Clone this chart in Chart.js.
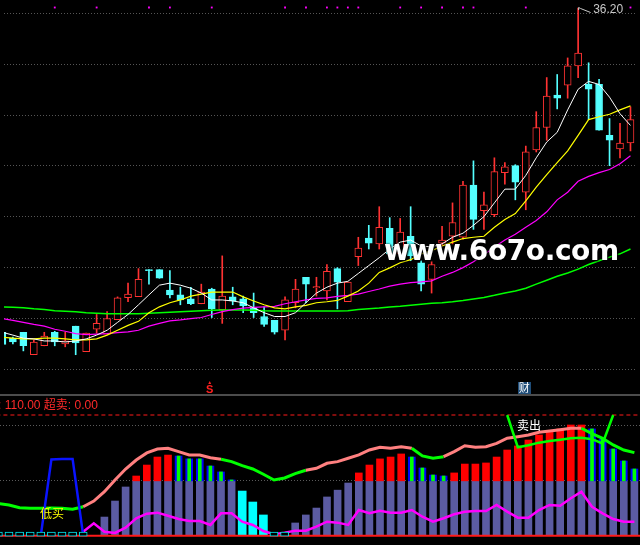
<!DOCTYPE html>
<html>
<head>
<meta charset="utf-8">
<script src="https://cdn.jsdelivr.net/npm/chart.js@4.4.1/dist/chart.umd.min.js"></script>
<style>
html,body{margin:0;padding:0;background:#000;width:640px;height:545px;overflow:hidden;}
#wrap{position:relative;width:640px;height:545px;background:#000;overflow:hidden;}
#top{position:absolute;left:0;top:0;}
#bot{position:absolute;left:0;top:395px;}
#divider{position:absolute;left:0;top:394px;width:640px;height:2px;background:#4c4c4c;}
.lbl{position:absolute;white-space:nowrap;font-family:"Liberation Sans","Noto Sans CJK SC",sans-serif;}
</style>
</head>
<body>
<div id="wrap">
  <canvas id="top" width="640" height="395"></canvas>
  <div id="divider"></div>
  <canvas id="bot" width="640" height="150"></canvas>
  <div class="lbl" id="wm" style="left:384px;top:237px;font-family:'DejaVu Sans',sans-serif;font-weight:bold;font-size:28px;line-height:28px;color:#fff;letter-spacing:-0.4px;text-shadow:0 0 2px #000,1px 1px 2px #000;">www.6o7o.com</div>
  <div class="lbl" id="hiLbl" style="top:3px;font-size:12px;line-height:12px;color:#c8c8c8;"></div>
  <div class="lbl" id="hdr" style="left:-26px;top:398px;font-size:12px;line-height:14px;color:#ff2a2a;">超买: 110.00 超卖: 0.00</div>
  <div class="lbl" id="buyLbl" style="left:40px;top:507px;font-size:12px;line-height:14px;color:#ffff00;">低买</div>
  <div class="lbl" id="sellLbl" style="left:517px;top:419px;font-size:12px;line-height:14px;color:#ffffff;">卖出</div>
  <div class="lbl" id="sMark" style="top:380px;font-size:11px;line-height:10px;color:#ff2020;font-weight:bold;text-align:center;width:12px;"><div style="font-size:5px;line-height:4px;">▲</div>S</div>
  <div class="lbl" id="caiMark" style="top:382px;width:13px;height:12px;font-size:11px;line-height:12px;color:#ffffff;background:#1f4d78;text-align:center;">财</div>
</div>
<script>
// ---------------- DATA ----------------
const days = [0,1,2,3,4,5,6,7,8,9,10,11,12,13,14,15,16,17,18,19,20,21,22,23,24,25,26,27,28,29,30,31,32,33,34,35,36,37,38,39,40,41,42,43,44,45,46,47,48,49,50,51,52,53,54,55,56,57,58,59,60];

const openP = [23.47,23.24,23.47,22.59,22.94,23.47,23.01,23.71,22.71,23.59,
  23.40,23.97,24.83,24.87,25.91,25.93,25.13,24.94,24.78,24.59,
  25.17,24.36,24.86,24.78,24.43,24.09,23.94,23.55,24.63,25.63,
  25.22,25.09,25.97,24.67,26.44,27.17,26.94,27.55,26.55,27.24,
  26.20,25.55,26.97,27.24,27.20,29.25,28.24,28.09,29.74,30.01,
  28.97,30.63,31.51,32.78,33.17,33.93,33.20,33.20,31.20,30.67,
  30.90];
const highP = [23.51,23.28,23.47,23.17,23.47,23.51,23.47,23.71,23.44,24.17,
  24.28,24.86,25.40,25.97,25.93,25.93,25.89,25.24,25.24,25.36,
  25.20,26.47,25.24,24.89,25.01,24.47,23.94,24.86,25.55,25.63,
  25.63,26.13,26.01,25.44,27.20,27.67,28.40,27.97,27.94,28.40,
  26.28,26.24,27.63,28.55,29.40,30.20,28.97,30.32,30.13,30.05,
  30.78,32.13,33.47,33.59,34.24,36.20,34.05,33.40,31.86,31.67,
  32.32];
const lowP = [22.94,23.01,22.74,22.59,22.94,22.94,22.90,22.59,22.71,23.44,
  23.40,23.97,24.67,24.87,25.36,25.59,24.82,24.55,24.55,24.59,
  24.05,23.82,24.55,24.24,24.05,23.70,23.40,23.17,24.43,24.63,
  24.89,24.74,24.39,24.67,26.09,26.74,26.74,26.44,26.36,26.28,
  25.09,25.01,26.86,26.94,27.13,27.51,27.51,28.01,29.28,28.67,
  28.28,30.55,31.01,32.24,32.66,33.47,31.82,31.40,30.01,30.32,
  30.59];
const closeP = [22.99,23.09,22.94,23.09,23.32,23.09,23.13,23.05,23.44,23.82,
  24.01,24.82,24.97,25.55,25.89,25.59,24.94,24.74,24.59,25.05,
  24.39,24.89,24.70,24.51,24.24,23.78,23.47,24.74,25.17,25.36,
  25.26,25.86,25.44,25.44,26.78,26.97,27.59,26.55,27.40,26.47,
  25.36,26.13,27.09,27.78,29.25,27.90,28.47,29.78,29.97,29.36,
  30.55,31.51,32.74,32.66,33.93,34.43,33.01,31.40,31.01,30.90,
  31.82];

const ma5 = [23.47,23.36,23.24,23.21,23.13,23.13,23.09,23.13,23.21,23.36,
  23.55,23.86,24.17,24.55,24.94,25.32,25.40,25.32,25.20,25.01,
  24.74,24.74,24.70,24.63,24.43,24.24,24.09,24.09,24.24,24.63,
  25.01,25.24,25.40,25.47,25.78,26.09,26.40,26.74,27.01,27.09,
  26.86,26.82,26.94,27.20,27.36,27.67,28.01,28.55,29.09,29.09,
  29.63,30.32,30.94,31.32,32.20,33.01,33.32,33.20,32.70,32.05,
  31.59];
const ma10 = [23.28,23.24,23.21,23.21,23.24,23.24,23.21,23.17,23.17,23.21,
  23.36,23.55,23.74,23.90,24.24,24.47,24.63,24.74,24.89,24.97,
  25.05,25.05,25.05,24.86,24.70,24.55,24.43,24.39,24.47,24.53,
  24.63,24.67,24.72,24.89,25.09,25.40,25.82,26.00,26.20,26.32,
  26.55,26.67,26.86,27.01,27.15,27.20,27.24,27.59,27.90,28.13,
  28.63,29.17,29.66,30.13,30.59,31.20,31.82,31.93,32.03,32.20,
  32.36];
const ma20 = [24.01,23.94,23.86,23.78,23.71,23.59,23.51,23.42,23.38,23.40,
  23.42,23.46,23.49,23.55,23.71,23.82,23.92,23.96,24.01,24.05,
  24.17,24.28,24.36,24.42,24.45,24.47,24.49,24.59,24.67,24.74,
  24.80,24.82,24.88,24.92,24.97,25.07,25.17,25.28,25.36,25.42,
  25.45,25.49,25.67,25.82,26.01,26.24,26.51,26.82,27.09,27.32,
  27.59,27.86,28.20,28.67,28.97,29.40,29.59,29.74,29.86,30.09,
  30.40];
const ma60 = [24.47,24.45,24.43,24.39,24.36,24.32,24.30,24.28,24.24,24.22,
  24.20,24.20,24.20,24.20,24.22,24.24,24.26,24.28,24.30,24.32,
  24.34,24.35,24.35,24.35,24.34,24.32,24.31,24.31,24.31,24.31,
  24.31,24.31,24.31,24.32,24.36,24.39,24.42,24.46,24.49,24.53,
  24.57,24.61,24.63,24.67,24.72,24.78,24.84,24.92,25.01,25.09,
  25.20,25.36,25.51,25.67,25.80,25.95,26.13,26.28,26.42,26.55,
  26.74];

const priceGrid = [22,24,26,28,30,32,34,36];
const signalDays = [5,9,14,16,20,27,29,31,32,33,34,38,40,42,44,45,50,60];
const signalLevel = 36.22;
const eventS = 20;
const eventCai = 50;

// lower indicator
const energy = [0,0,0,0,0,0,0,0,0,0,
  17,31.6,44.4,54.4,64.4,71.7,73.5,72.6,70,70,
  63.5,58.1,50.8,40.7,30.7,18.9,0,0,11.6,18.9,
  25.2,35.3,41.5,48.0,57.2,64.4,70,71.7,74.5,71.7,
  61.7,55.3,54.4,57.2,65.3,65.3,66.3,71.7,78.1,81.8,
  87.2,91.8,94.5,97.3,100.9,100.9,97.3,88,79,68.1,
  60.8];
const barTone = ['','','','','','','','','','',
  'S','S','S','R','R','R','R','B','B','B',
  'B','B','B','C','C','C','','','S','S',
  'S','S','S','S','R','R','R','R','R','B',
  'B','B','B','R','R','R','R','R','R','R',
  'R','R','R','R','R','R','B','B','B','B',
  'B'];
const zeroMarkDays = [0,1,2,3,4,5,6,7,8,26,27];
const trend = [29.3,28,25.5,25,25,25.2,25,24.1,26.4,31.6,
  40.1,50.8,60.8,69,75.4,79,79.7,76.6,73.6,73.6,
  71.1,69.6,67.5,63.8,60.8,56,50.8,52.6,56.6,59.6,
  61.4,66,67.5,70.6,73.6,78.1,80.6,79.7,81.1,79.7,
  72.7,70.6,72,76.6,82,80.6,81.1,84.2,88.8,90.2,
  91.8,94.2,95.4,96.6,97.9,97.9,93,88.8,82.7,78.1,
  75.7];
const trendDown = [1,1,1,1,1,1,1,1,1,0,
  0,0,0,0,0,0,0,0,0,0,
  0,0,1,1,1,1,1,1,1,1,
  0,0,0,0,0,0,0,0,0,0,
  1,1,1,0,0,0,0,0,0,0,
  0,0,0,0,0,0,1,1,1,1,
  1];
const mom = [null,null,null,null,null,null,null,null,3.6,11.3,
  3.6,2.5,7.3,15.9,20.1,21,18.2,15.2,13.4,13.4,
  9.8,20.4,20.4,12.8,9.8,4.3,1.3,2.8,4.6,4.6,
  8.2,12.8,11.9,9.8,23.4,20.4,22.8,21,21,23.4,
  17.3,12.8,15.9,19.5,21.9,22.5,22.5,28,21.9,16.4,
  16.4,23.4,28,27.3,34.1,40.1,26.4,20.4,15.2,12.8,
  12.8];
const buyLine = [null,null,null,null,0,69.5,70,70,0,null,
  null,null,null,null,null,null,null,null,null,null,
  null,null,null,null,null,null,null,null,null,null,
  null,null,null,null,null,null,null,null,null,null,
  null,null,null,null,null,null,null,null,null,null,
  null,null,null,null,null,null,null,null,null,null,
  null];
const sellLine = [null,null,null,null,null,null,null,null,null,null,
  null,null,null,null,null,null,null,null,null,null,
  null,null,null,null,null,null,null,null,null,null,
  null,null,null,null,null,null,null,null,null,null,
  null,null,null,null,null,null,null,null,110,80.6,
  82.5,84.8,86.3,87.5,88.8,89.3,88,84,110,null,
  null];
const overBought = 110;
const overSold = 0;
const midLevel = 50;
const lowerGrid = [50,100];

// ---------------- LAYOUT ----------------
const PITCH = 10.6;
const XMIN = 1.6 / PITCH;
const XMAX = XMIN + 640 / PITCH;
const RED = '#ff3232', CYAN = '#54ffff';

const up = days.map(i => closeP[i] >= openP[i]);
const pts = arr => days.map(i => ({x: i, y: arr[i]}));

const xScale = {type: 'linear', min: XMIN, max: XMAX, display: false, offset: false, bounds: 'data', grace: 0};
const common = {
  responsive: false, animation: false, events: [],
  layout: {padding: 0},
  plugins: {legend: {display: false}, tooltip: {enabled: false}},
  elements: {point: {radius: 0}, line: {tension: 0}}
};

const flagPlugin = {
  id: 'flag',
  afterDatasetsDraw(chart) {
    const {ctx, scales: {x, y}} = chart;
    const hi = Math.max(...highP);
    const i = highP.indexOf(hi);
    const cx = x.getPixelForValue(i), cy = y.getPixelForValue(hi);
    ctx.save();
    ctx.strokeStyle = '#c8c8c8'; ctx.lineWidth = 1;
    ctx.beginPath();
    ctx.moveTo(cx + 0.5, cy + 2); ctx.lineTo(cx + 0.5, cy - 0.5); ctx.lineTo(cx + 2.5, cy + 0.5);
    ctx.lineTo(cx + 12.5, cy + 4.5);
    ctx.stroke();
    ctx.restore();
    const lbl = document.getElementById('hiLbl');
    lbl.textContent = hi.toFixed(2);
    lbl.style.left = (cx + 15) + 'px';
  }
};

const topChart = new Chart(document.getElementById('top'), {
  data: {
    datasets: [
      {type: 'scatter', data: signalDays.map(d => ({x: d, y: signalLevel})), pointStyle: 'rect', pointRadius: 1.3, backgroundColor: '#ff00ff', borderWidth: 0, order: 0},
      {type: 'line', data: pts(ma5), borderColor: '#ffffff', borderWidth: 1, order: 1},
      {type: 'line', data: pts(ma10), borderColor: '#ffff00', borderWidth: 1.2, order: 2},
      {type: 'line', data: pts(ma20), borderColor: '#ff00ff', borderWidth: 1.2, order: 3},
      {type: 'line', data: pts(ma60), borderColor: '#00ff00', borderWidth: 1.5, order: 4},
      {type: 'bar', data: days.map(i => ({x: i, y: [openP[i], closeP[i]]})),
        backgroundColor: days.map(i => up[i] ? '#000000' : CYAN),
        borderColor: days.map(i => up[i] ? RED : CYAN),
        borderWidth: 1, borderSkipped: false, barThickness: 7, minBarLength: 1, grouped: false, order: 5},
      {type: 'bar', data: days.map(i => ({x: i, y: [lowP[i], highP[i]]})),
        backgroundColor: days.map(i => up[i] ? RED : CYAN),
        borderWidth: 0, barThickness: 1, grouped: false, order: 6}
    ]
  },
  options: Object.assign({}, common, {
    scales: {
      x: xScale,
      y: {type: 'linear', min: 36 - 385.7 / 26, max: 36 + 9.3 / 26, position: 'left',
        afterBuildTicks: s => { s.ticks = priceGrid.map(v => ({value: v})); },
        afterFit: s => { s.width = 0; },
        ticks: {display: false},
        grid: {color: '#555555', lineWidth: 1, drawTicks: false},
        border: {display: false, dash: [1, 2]}}
    }
  }),
  plugins: [flagPlugin]
});

// lower panel
const slate = days.filter(i => energy[i] > 0 && barTone[i] !== 'C').map(i => ({x: i, y: [0, Math.min(energy[i], midLevel)]}));
const cyanBars = days.filter(i => barTone[i] === 'C').map(i => ({x: i, y: [0, energy[i]]}));
const redBars = days.filter(i => barTone[i] === 'R').map(i => ({x: i, y: [midLevel, energy[i]]}));
const blueBars = days.filter(i => barTone[i] === 'B').map(i => ({x: i, y: [midLevel, energy[i]]}));
const boxes = zeroMarkDays.map(i => ({x: i, y: [-0.5, 3.2]}));
const spanLine = v => [{x: XMIN - 1, y: v}, {x: XMAX + 1, y: v}];

const botChart = new Chart(document.getElementById('bot'), {
  data: {
    datasets: [
      {type: 'line', data: spanLine(overSold), borderColor: '#ff1a1a', borderWidth: 2, order: 1},
      {type: 'bar', data: boxes, backgroundColor: '#000000', borderColor: '#00e8f0', borderWidth: 1, borderSkipped: false, barThickness: 8, grouped: false, order: 0},
      {type: 'line', data: pts(buyLine), borderColor: '#0a14ff', borderWidth: 2.5, order: 2},
      {type: 'line', data: pts(mom), borderColor: '#ff00ff', borderWidth: 2.5, order: 3},
      {type: 'line', data: pts(sellLine), borderColor: '#00ff00', borderWidth: 2.5, order: 4},
      {type: 'line', data: pts(trend), borderColor: '#ff8080', borderWidth: 3, order: 5,
        segment: {borderColor: c => trendDown[c.p1DataIndex] ? '#00ff00' : '#ff8080'}},
      {type: 'line', data: spanLine(overBought), borderColor: '#ff1a1a', borderWidth: 1, borderDash: [4, 3], order: 6},
      {type: 'bar', data: blueBars, backgroundColor: '#00ff00', barThickness: 3, grouped: false, order: 7},
      {type: 'bar', data: blueBars, backgroundColor: '#0000ff', barThickness: 7, grouped: false, order: 8},
      {type: 'bar', data: redBars, backgroundColor: '#ff0000', barThickness: 7, grouped: false, order: 9},
      {type: 'bar', data: cyanBars, backgroundColor: '#00ffff', barThickness: 8, grouped: false, order: 10},
      {type: 'bar', data: slate, backgroundColor: '#5b5ba2', barThickness: 7, grouped: false, order: 11}
    ]
  },
  options: Object.assign({}, common, {
    scales: {
      x: xScale,
      y: {type: 'linear', min: -(150 - 140.7) / (120.7 / 110), max: 110 + 20 / (120.7 / 110), position: 'left',
        afterBuildTicks: s => { s.ticks = lowerGrid.map(v => ({value: v})); },
        afterFit: s => { s.width = 0; },
        ticks: {display: false},
        grid: {color: '#5a5a5a', lineWidth: 1, drawTicks: false},
        border: {display: false, dash: [1, 2]}}
    }
  })
});

// place event markers by the x scale
const xs = topChart.scales.x;
const sEl = document.getElementById('sMark');
sEl.style.left = (xs.getPixelForValue(eventS) - 8) + 'px';
const cEl = document.getElementById('caiMark');
cEl.style.left = (xs.getPixelForValue(eventCai) - 8) + 'px';
</script>
</body>
</html>
